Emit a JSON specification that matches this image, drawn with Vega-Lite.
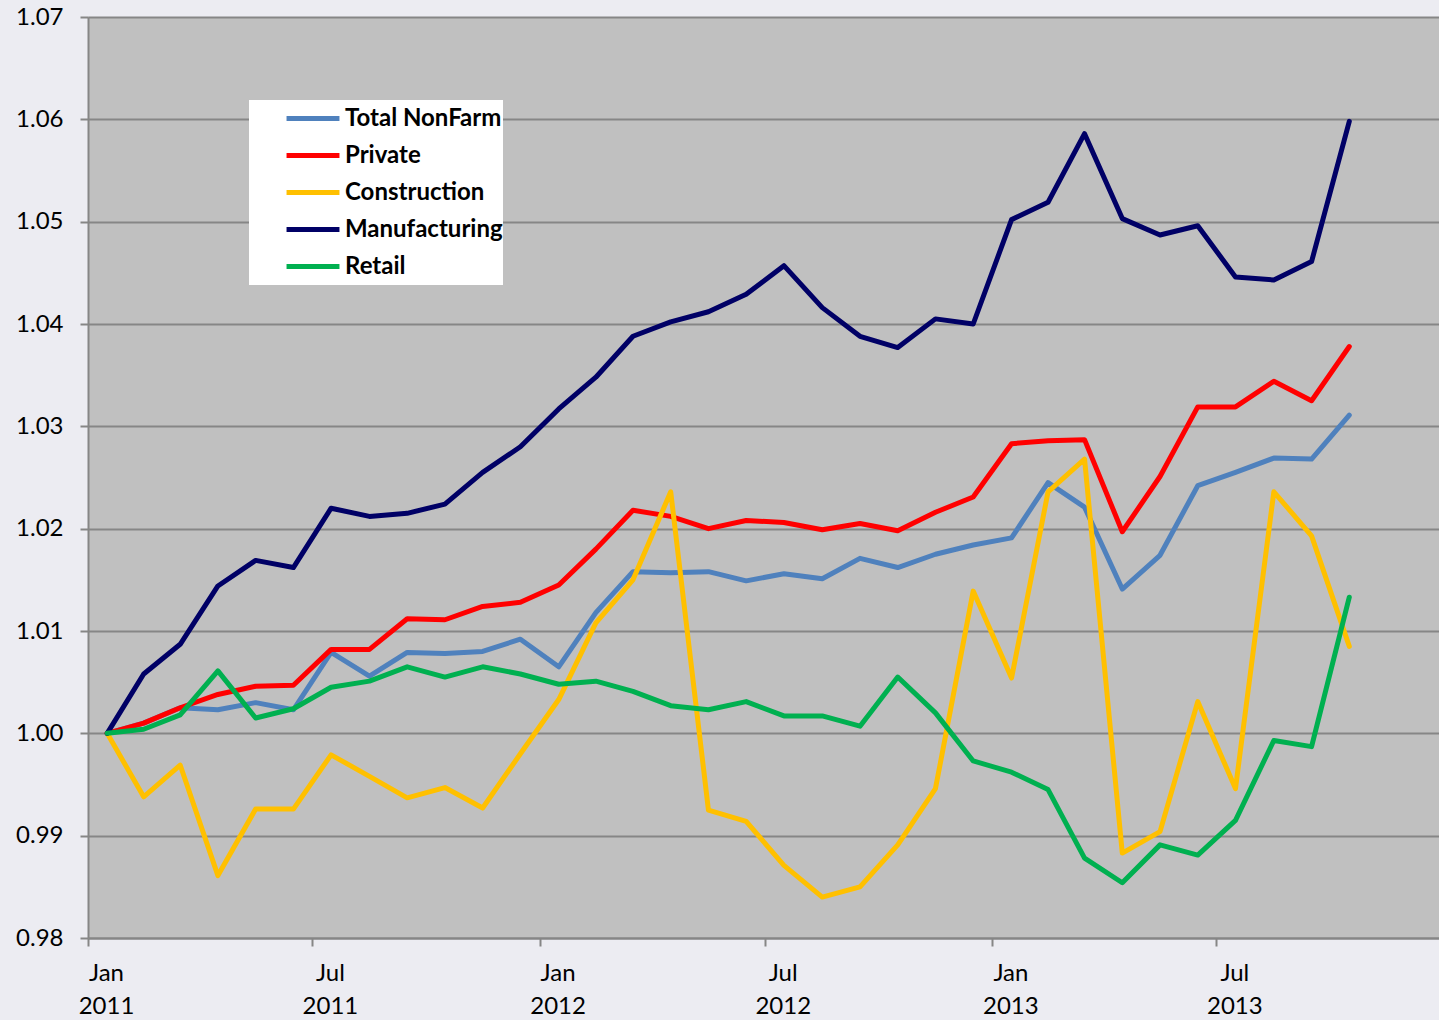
{
  "$schema": "https://vega.github.io/schema/vega-lite/v6.json",
  "width": 1351,
  "height": 921,
  "autosize": "none",
  "padding": {"left": 88, "top": 17, "right": 0, "bottom": 82},
  "background": "#ececf2",
  "config": {
    "view": {"fill": "#C0C0C0", "stroke": null},
    "font": "Lato"
  },
  "datasets": {
    "jobs": [
      {"date":"2011-01","Total NonFarm":1.0,"Private":1.0,"Construction":1.0,"Manufacturing":1.0,"Retail":1.0},
      {"date":"2011-02","Total NonFarm":1.001,"Private":1.001,"Construction":0.9938,"Manufacturing":1.0058,"Retail":1.0004},
      {"date":"2011-03","Total NonFarm":1.0025,"Private":1.0025,"Construction":0.9969,"Manufacturing":1.0087,"Retail":1.0018},
      {"date":"2011-04","Total NonFarm":1.0023,"Private":1.0038,"Construction":0.9861,"Manufacturing":1.0144,"Retail":1.0061},
      {"date":"2011-05","Total NonFarm":1.003,"Private":1.0046,"Construction":0.9926,"Manufacturing":1.0169,"Retail":1.0015},
      {"date":"2011-06","Total NonFarm":1.0023,"Private":1.0047,"Construction":0.9926,"Manufacturing":1.0162,"Retail":1.0024},
      {"date":"2011-07","Total NonFarm":1.0079,"Private":1.0082,"Construction":0.9979,"Manufacturing":1.022,"Retail":1.0045},
      {"date":"2011-08","Total NonFarm":1.0056,"Private":1.0082,"Construction":0.9958,"Manufacturing":1.0212,"Retail":1.0051},
      {"date":"2011-09","Total NonFarm":1.0079,"Private":1.0112,"Construction":0.9937,"Manufacturing":1.0215,"Retail":1.0065},
      {"date":"2011-10","Total NonFarm":1.0078,"Private":1.0111,"Construction":0.9947,"Manufacturing":1.0224,"Retail":1.0055},
      {"date":"2011-11","Total NonFarm":1.008,"Private":1.0124,"Construction":0.9927,"Manufacturing":1.0255,"Retail":1.0065},
      {"date":"2011-12","Total NonFarm":1.0092,"Private":1.0128,"Construction":0.998,"Manufacturing":1.028,"Retail":1.0058},
      {"date":"2012-01","Total NonFarm":1.0065,"Private":1.0145,"Construction":1.0033,"Manufacturing":1.0317,"Retail":1.0048},
      {"date":"2012-02","Total NonFarm":1.0118,"Private":1.018,"Construction":1.0108,"Manufacturing":1.0348,"Retail":1.0051},
      {"date":"2012-03","Total NonFarm":1.0158,"Private":1.0218,"Construction":1.015,"Manufacturing":1.0388,"Retail":1.0041},
      {"date":"2012-04","Total NonFarm":1.0157,"Private":1.0212,"Construction":1.0236,"Manufacturing":1.0402,"Retail":1.0027},
      {"date":"2012-05","Total NonFarm":1.0158,"Private":1.02,"Construction":0.9925,"Manufacturing":1.0412,"Retail":1.0023},
      {"date":"2012-06","Total NonFarm":1.0149,"Private":1.0208,"Construction":0.9914,"Manufacturing":1.0429,"Retail":1.0031},
      {"date":"2012-07","Total NonFarm":1.0156,"Private":1.0206,"Construction":0.9871,"Manufacturing":1.0457,"Retail":1.0017},
      {"date":"2012-08","Total NonFarm":1.0151,"Private":1.0199,"Construction":0.984,"Manufacturing":1.0416,"Retail":1.0017},
      {"date":"2012-09","Total NonFarm":1.0171,"Private":1.0205,"Construction":0.985,"Manufacturing":1.0388,"Retail":1.0007},
      {"date":"2012-10","Total NonFarm":1.0162,"Private":1.0198,"Construction":0.9891,"Manufacturing":1.0377,"Retail":1.0055},
      {"date":"2012-11","Total NonFarm":1.0175,"Private":1.0216,"Construction":0.9946,"Manufacturing":1.0405,"Retail":1.002},
      {"date":"2012-12","Total NonFarm":1.0184,"Private":1.0231,"Construction":1.0139,"Manufacturing":1.04,"Retail":0.9973},
      {"date":"2013-01","Total NonFarm":1.0191,"Private":1.0283,"Construction":1.0054,"Manufacturing":1.0502,"Retail":0.9962},
      {"date":"2013-02","Total NonFarm":1.0245,"Private":1.0286,"Construction":1.0236,"Manufacturing":1.0519,"Retail":0.9945},
      {"date":"2013-03","Total NonFarm":1.0221,"Private":1.0287,"Construction":1.0268,"Manufacturing":1.0586,"Retail":0.9878},
      {"date":"2013-04","Total NonFarm":1.0141,"Private":1.0197,"Construction":0.9883,"Manufacturing":1.0503,"Retail":0.9854},
      {"date":"2013-05","Total NonFarm":1.0174,"Private":1.0251,"Construction":0.9904,"Manufacturing":1.0487,"Retail":0.9891},
      {"date":"2013-06","Total NonFarm":1.0242,"Private":1.0319,"Construction":1.0031,"Manufacturing":1.0496,"Retail":0.9881},
      {"date":"2013-07","Total NonFarm":1.0255,"Private":1.0319,"Construction":0.9946,"Manufacturing":1.0446,"Retail":0.9915},
      {"date":"2013-08","Total NonFarm":1.0269,"Private":1.0344,"Construction":1.0236,"Manufacturing":1.0443,"Retail":0.9993},
      {"date":"2013-09","Total NonFarm":1.0268,"Private":1.0325,"Construction":1.0193,"Manufacturing":1.0461,"Retail":0.9987},
      {"date":"2013-10","Total NonFarm":1.0311,"Private":1.0378,"Construction":1.0085,"Manufacturing":1.0598,"Retail":1.0133}
    ]
  },
  "data": {"name": "jobs"},
  "transform": [
    {"fold": ["Total NonFarm", "Private", "Construction", "Manufacturing", "Retail"], "as": ["series", "value"]}
  ],
  "mark": {"type": "line", "strokeWidth": 5, "strokeJoin": "round", "strokeCap": "round"},
  "encoding": {
    "x": {
      "field": "date",
      "timeUnit": "utcyearmonth",
      "type": "temporal",
      "bandPosition": 0.5,
      "scale": {
        "type": "utc",
        "domain": [{"year": 2011, "month": 1, "date": 1, "utc": true}, {"year": 2013, "month": 12, "date": 28, "utc": true}],
        "nice": false
      },
      "axis": {
        "title": null,
        "grid": false,
        "values": [
          {"year": 2011, "month": 1, "date": 1, "utc": true},
          {"year": 2011, "month": 7, "date": 1, "utc": true},
          {"year": 2012, "month": 1, "date": 1, "utc": true},
          {"year": 2012, "month": 7, "date": 1, "utc": true},
          {"year": 2013, "month": 1, "date": 1, "utc": true},
          {"year": 2013, "month": 7, "date": 1, "utc": true}
        ],
        "labelExpr": "[utcFormat(datum.value, '%b'), utcFormat(datum.value, '%Y')]",
        "labelOffset": 18,
        "labelAlign": "center",
        "labelBaseline": "top",
        "labelPadding": 15,
        "labelLineHeight": 33,
        "labelFontSize": 24,
        "labelColor": "#000000",
        "labelFont": "Lato",
        "tickSize": 8,
        "tickColor": "#868686",
        "tickWidth": 2,
        "domainColor": "#868686",
        "domainWidth": 2,
        "labelFlush": false,
        "labelOverlap": false
      }
    },
    "y": {
      "field": "value",
      "type": "quantitative",
      "scale": {"domain": [0.98, 1.07], "nice": false, "zero": false},
      "axis": {
        "title": null,
        "values": [0.98, 0.99, 1.0, 1.01, 1.02, 1.03, 1.04, 1.05, 1.06, 1.07],
        "format": ".2f",
        "labelFontSize": 24,
        "labelColor": "#000000",
        "labelFont": "Lato",
        "labelPadding": 17,
        "tickSize": 8,
        "tickColor": "#868686",
        "tickWidth": 2,
        "grid": true,
        "gridColor": "#868686",
        "gridWidth": 2,
        "domainColor": "#868686",
        "domainWidth": 2
      }
    },
    "color": {
      "field": "series",
      "type": "nominal",
      "sort": ["Total NonFarm", "Private", "Construction", "Manufacturing", "Retail"],
      "scale": {
        "domain": ["Total NonFarm", "Private", "Construction", "Manufacturing", "Retail"],
        "range": ["#4F81BD", "#FF0000", "#FFC000", "#000066", "#00B050"]
      },
      "legend": {
        "title": null,
        "orient": "none",
        "legendX": 161,
        "legendY": 83,
        "fillColor": "#FFFFFF",
        "padding": 0,
        "symbolType": "stroke",
        "symbolSize": 2800,
        "symbolStrokeWidth": 5,
        "symbolOffset": 35,
        "labelOffset": 3,
        "labelFontSize": 24,
        "labelFontWeight": "bold",
        "labelFont": "Lato",
        "labelColor": "#000000",
        "clipHeight": 37,
        "rowPadding": 0,
        "labelLimit": 400
      }
    },
    "order": {"field": "series"}
  }
}
